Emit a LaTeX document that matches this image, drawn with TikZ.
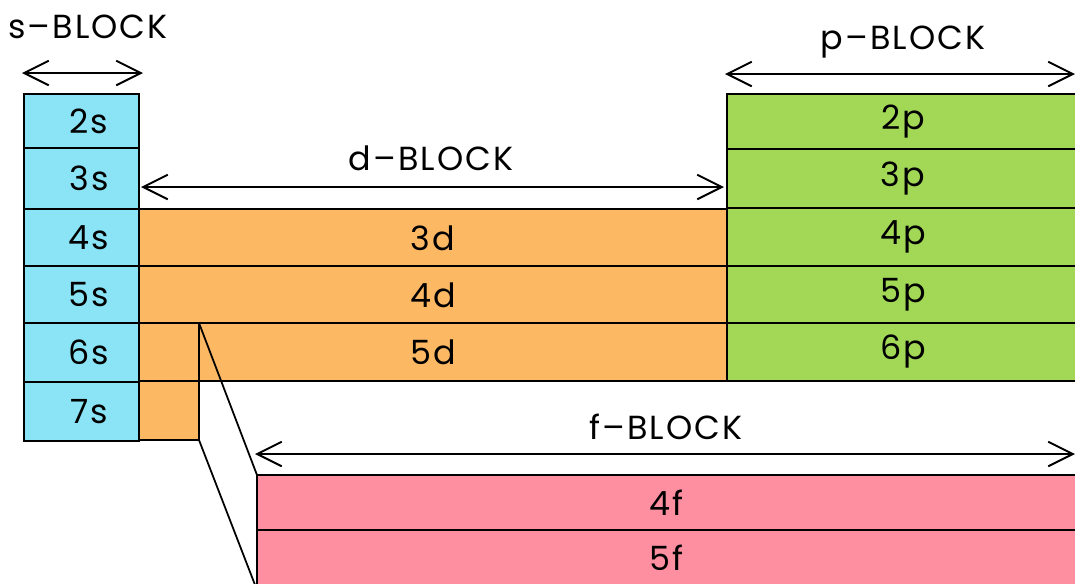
\documentclass[tikz,border=0pt]{standalone}
\usepackage{fontspec}
\setmainfont{Poppins}[LetterSpace=6]
\usetikzlibrary{arrows.meta}
\definecolor{scyan}{RGB}{138,228,246}
\definecolor{dorange}{RGB}{253,184,99}
\definecolor{pgreen}{RGB}{162,216,86}
\definecolor{fpink}{RGB}{254,143,160}
\tikzset{
    cell/.style={draw=black, line width=1pt},
    lbl/.style={font=\fontsize{19}{21}\selectfont, inner sep=0pt},
    span/.style={{Straight Barb[length=14pt,width=14pt]}-{Straight Barb[length=14pt,width=14pt]}, line width=1.1pt}
}
\begin{document}
\begin{tikzpicture}[x=0.02cm, y=-0.02cm]
    \clip (0, 0) rectangle (1075, 583);
    %\draw[lightgray] (0, 0) grid[step=50] (1075, 583);

    % s-block
    \foreach \n/\t/\b in {2/94/148, 3/148/209, 4/209/266, 5/266/323, 6/323/382, 7/382/441} {
        \draw[cell, fill=scyan] (24, \t) rectangle (139, \b);
        \node[lbl] (s\n) at (89, {(\t+\b)/2}) {\n s};
    }

    % d-block
    \draw[cell, fill=dorange] (139, 209) -- (727, 209) -- (727, 381) -- (199, 381)
        -- (199, 440) -- (139, 440) -- cycle;
    \draw[cell] (139, 266) -- (727, 266);
    \draw[cell] (139, 323) -- (727, 323);
    \draw[cell] (139, 381) -- (199, 381);
    \draw[cell] (199, 323) -- (199, 440);
    \node[lbl] (d3) at (433, 238) {3d};
    \node[lbl] (d4) at (433, 295) {4d};
    \node[lbl] (d5) at (433, 352) {5d};

    % p-block
    \foreach \n/\t/\b in {2/94/149, 3/149/208, 4/208/266, 5/266/323, 6/323/381} {
        \draw[cell, fill=pgreen] (727, \t) rectangle (1090, \b);
        \node[lbl] (p\n) at (903, {(\t+\b)/2}) {\n p};
    }

    % f-block
    \draw[cell, fill=fpink] (257, 475) rectangle (1090, 530);
    \draw[cell, fill=fpink] (257, 530) rectangle (1090, 600);
    \node[lbl] (f4) at (666, 503) {4f};
    \node[lbl] (f5) at (666, 558) {5f};
    \draw[cell] (199, 323) -- (257, 475);
    \draw[cell] (199, 440) -- (257, 590);

    % block widths
    \coordinate (sl) at (22, 73);
    \coordinate (sr) at (143, 73);
    \coordinate (dl) at (141, 187);
    \coordinate (dr) at (724, 187);
    \coordinate (pl) at (725, 74);
    \coordinate (pr) at (1075, 74);
    \coordinate (fl) at (255, 454);
    \coordinate (fr) at (1075, 454);
    \draw[span] (sl) -- (sr);
    \draw[span] (dl) -- (dr);
    \draw[span] (pl) -- (pr);
    \draw[span] (fl) -- (fr);
    \node[lbl] (stitle) at (88, 27) {s–BLOCK};
    \node[lbl] (dtitle) at (431, 158) {d–BLOCK};
    \node[lbl] (ptitle) at (903, 42) {p–BLOCK};
    \node[lbl] (ftitle) at (666, 427) {f–BLOCK};
\end{tikzpicture}
\end{document}
